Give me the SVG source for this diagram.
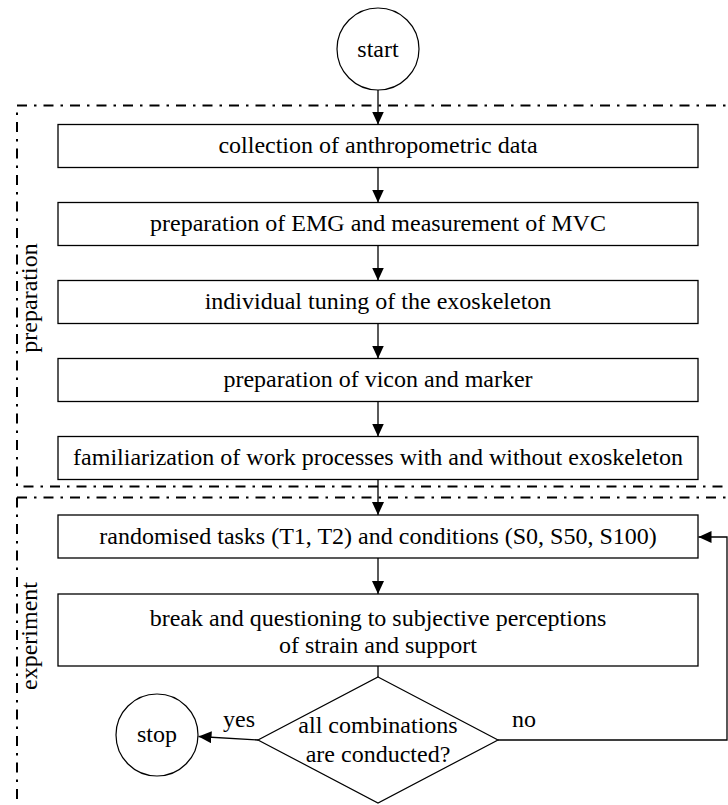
<svg xmlns="http://www.w3.org/2000/svg" width="728" height="805" viewBox="0 0 728 805">
<style>
text{font-family:"Liberation Serif","Times New Roman",serif;font-size:24px;fill:#000}
.c{text-anchor:middle}
.box{fill:#fff;stroke:#000;stroke-width:1.3}
.shape{fill:#fff;stroke:#000;stroke-width:1.2}
.frame{fill:none;stroke:#000;stroke-width:2;stroke-dasharray:10 7 2.5 7}
.conn{fill:none;stroke:#000;stroke-width:1.3}
</style>
<defs>
<marker id="arr" markerUnits="userSpaceOnUse" markerWidth="14" markerHeight="12" refX="13" refY="6" orient="auto" viewBox="0 0 14 12">
<path d="M0,0 L13,6 L0,12 z" fill="#000"/>
</marker>
</defs>
<g id="frames">
<g id="frame-preparation">
<path class="frame" d="M17 105.5 H740"/>
<path class="frame" d="M17 105.5 V486.5 H740" stroke-dashoffset="10"/>
<text class="c" transform="translate(37,298) rotate(-90)">preparation</text>
</g>
<g id="frame-experiment">
<path class="frame" d="M17 497.5 H740"/>
<path class="frame" d="M17 497.5 V812"/>
<text class="c" transform="translate(37,636) rotate(-90)">experiment</text>
</g>
</g>
<g id="connectors">
<line class="conn" x1="378" y1="90" x2="378" y2="124.5" marker-end="url(#arr)"/>
<line class="conn" x1="378" y1="167.5" x2="378" y2="202.5" marker-end="url(#arr)"/>
<line class="conn" x1="378" y1="245.5" x2="378" y2="280.5" marker-end="url(#arr)"/>
<line class="conn" x1="378" y1="323.5" x2="378" y2="358.5" marker-end="url(#arr)"/>
<line class="conn" x1="378" y1="401.5" x2="378" y2="436.5" marker-end="url(#arr)"/>
<line class="conn" x1="378" y1="479.5" x2="378" y2="515" marker-end="url(#arr)"/>
<line class="conn" x1="378" y1="558" x2="378" y2="594" marker-end="url(#arr)"/>
<line class="conn" x1="378" y1="666" x2="378" y2="677"/>
<line class="conn" x1="258" y1="740" x2="198.5" y2="736.5" marker-end="url(#arr)"/>
<polyline class="conn" points="498,740 727,740 727,537 698.5,537" marker-end="url(#arr)"/>
<text x="223" y="727">yes</text>
<text x="512" y="727">no</text>
</g>
<g id="start">
<circle class="shape" cx="378" cy="49" r="41"/>
<text class="c" x="378" y="57">start</text>
</g>
<g id="box1">
<rect class="box" x="58" y="124.5" width="640" height="43"/>
<text class="c" x="378" y="153">collection of anthropometric data</text>
</g>
<g id="box2">
<rect class="box" x="58" y="202.5" width="640" height="43"/>
<text class="c" x="378" y="231">preparation of EMG and measurement of MVC</text>
</g>
<g id="box3">
<rect class="box" x="58" y="280.5" width="640" height="43"/>
<text class="c" x="378" y="309">individual tuning of the exoskeleton</text>
</g>
<g id="box4">
<rect class="box" x="58" y="358.5" width="640" height="43"/>
<text class="c" x="378" y="387">preparation of vicon and marker</text>
</g>
<g id="box5">
<rect class="box" x="58" y="436.5" width="640" height="43"/>
<text class="c" x="378" y="465">familiarization of work processes with and without exoskeleton</text>
</g>
<g id="box6">
<rect class="box" x="58" y="515" width="640" height="43"/>
<text class="c" x="378" y="543.5">randomised tasks (T1, T2) and conditions (S0, S50, S100)</text>
</g>
<g id="box7">
<rect class="box" x="58" y="594" width="640" height="72"/>
<text class="c" x="378" y="626">break and questioning to subjective perceptions</text>
<text class="c" x="378" y="653">of strain and support</text>
</g>
<g id="decision">
<polygon class="shape" points="378,677 498,740 378,803 258,740"/>
<text class="c" x="378" y="733">all combinations</text>
<text class="c" x="378" y="762">are conducted?</text>
</g>
<g id="stop">
<circle class="shape" cx="157" cy="735" r="41"/>
<text class="c" x="157" y="742">stop</text>
</g>
</svg>
